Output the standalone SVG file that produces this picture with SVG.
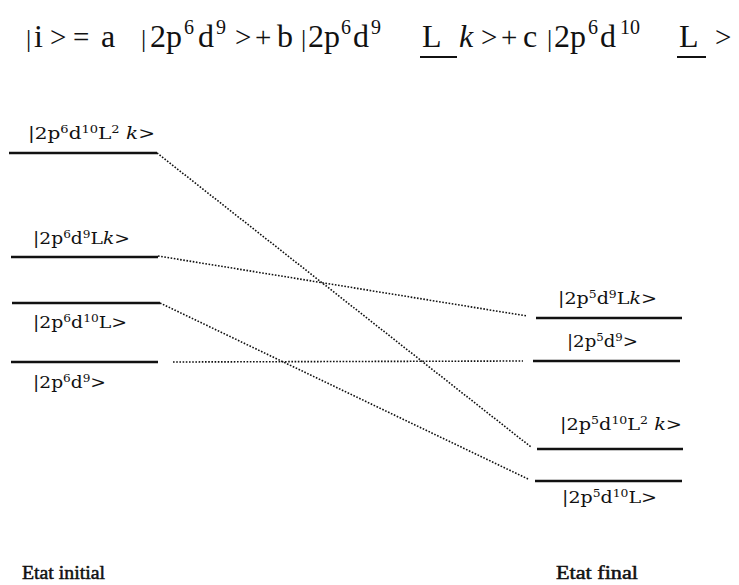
<svg xmlns="http://www.w3.org/2000/svg" width="739" height="585" viewBox="0 0 739 585">
<style>
.title{font-family:"Liberation Serif",serif;font-size:32px;fill:#111}
.sup{font-size:20px}
.op{font-size:29px}
.bar{font-size:26px}
.lab{font-family:"DejaVu Serif",serif;font-size:17px;fill:#111}
.s{font-size:11px}
.lvl{stroke:#111;stroke-width:2.6;fill:none}
.con{stroke:#111;stroke-width:1.6;stroke-dasharray:1.6 1.6;fill:none}
.foot{font-family:"Liberation Serif",serif;font-size:19px;fill:#111;stroke:#111;stroke-width:0.5}
.ul{stroke:#111;stroke-width:2}
</style>
<g id="title">
<text class="title" y="47"><tspan class="bar" x="26">|</tspan><tspan x="34">i</tspan><tspan class="op" x="50">&gt;</tspan><tspan class="op" x="73">=</tspan><tspan x="101">a</tspan><tspan class="bar" x="141">|</tspan><tspan x="150">2p</tspan><tspan class="sup" x="184" dy="-13">6</tspan><tspan x="198" dy="13">d</tspan><tspan class="sup" x="216" dy="-13">9</tspan><tspan class="op" x="235" dy="13">&gt;</tspan><tspan class="op" x="255">+</tspan><tspan x="277">b</tspan><tspan class="bar" x="301">|</tspan><tspan x="308">2p</tspan><tspan class="sup" x="341" dy="-13">6</tspan><tspan x="353" dy="13">d</tspan><tspan class="sup" x="371" dy="-13">9</tspan><tspan x="422" dy="13">L</tspan><tspan x="459" font-style="italic">k</tspan><tspan class="op" x="481">&gt;</tspan><tspan class="op" x="501">+</tspan><tspan x="523">c</tspan><tspan class="bar" x="547">|</tspan><tspan x="554">2p</tspan><tspan class="sup" x="588" dy="-13">6</tspan><tspan x="600" dy="13">d</tspan><tspan class="sup" x="620" dy="-13">10</tspan><tspan x="679" dy="13">L</tspan><tspan class="op" x="715">&gt;</tspan></text>
<line class="ul" x1="420" y1="57" x2="457" y2="57"/>
<line class="ul" x1="677" y1="57" x2="706" y2="57"/>
</g>
<g id="connectors">
<line class="con" x1="157" y1="153" x2="531" y2="447"/>
<line class="con" x1="158" y1="256" x2="527" y2="316"/>
<line class="con" x1="160" y1="303" x2="528" y2="479"/>
<line class="con" x1="173" y1="362" x2="523" y2="361"/>
</g>
<g id="i1">
<line class="lvl" x1="9" y1="153" x2="157" y2="153"/>
<text class="lab" x="28" y="139" textLength="127" lengthAdjust="spacingAndGlyphs">|2p<tspan class="s" dy="-6">6</tspan><tspan dy="6">d</tspan><tspan class="s" dy="-6">10</tspan><tspan dy="6">L</tspan><tspan class="s" dy="-6">2</tspan><tspan dy="6"> </tspan><tspan font-style="italic">k</tspan>&gt;</text>
</g>
<g id="i2">
<line class="lvl" x1="11" y1="257" x2="158" y2="257"/>
<text class="lab" x="33" y="244" textLength="97" lengthAdjust="spacingAndGlyphs">|2p<tspan class="s" dy="-6">6</tspan><tspan dy="6">d</tspan><tspan class="s" dy="-6">9</tspan><tspan dy="6">L</tspan><tspan font-style="italic">k</tspan>&gt;</text>
</g>
<g id="i3">
<line class="lvl" x1="12" y1="303" x2="160" y2="303"/>
<text class="lab" x="33" y="328" textLength="94" lengthAdjust="spacingAndGlyphs">|2p<tspan class="s" dy="-6">6</tspan><tspan dy="6">d</tspan><tspan class="s" dy="-6">10</tspan><tspan dy="6">L&gt;</tspan></text>
</g>
<g id="i4">
<line class="lvl" x1="11" y1="362" x2="158" y2="362"/>
<text class="lab" x="33" y="388" textLength="73" lengthAdjust="spacingAndGlyphs">|2p<tspan class="s" dy="-6">6</tspan><tspan dy="6">d</tspan><tspan class="s" dy="-6">9</tspan><tspan dy="6">&gt;</tspan></text>
</g>
<g id="f1">
<line class="lvl" x1="536" y1="318" x2="682" y2="318"/>
<text class="lab" x="558" y="304" textLength="99" lengthAdjust="spacingAndGlyphs">|2p<tspan class="s" dy="-6">5</tspan><tspan dy="6">d</tspan><tspan class="s" dy="-6">9</tspan><tspan dy="6">L</tspan><tspan font-style="italic">k</tspan>&gt;</text>
</g>
<g id="f2">
<line class="lvl" x1="533" y1="361" x2="680" y2="361"/>
<text class="lab" x="567" y="347" textLength="71" lengthAdjust="spacingAndGlyphs">|2p<tspan class="s" dy="-6">5</tspan><tspan dy="6">d</tspan><tspan class="s" dy="-6">9</tspan><tspan dy="6">&gt;</tspan></text>
</g>
<g id="f3">
<line class="lvl" x1="537" y1="449" x2="683" y2="449"/>
<text class="lab" x="560" y="430" textLength="122" lengthAdjust="spacingAndGlyphs">|2p<tspan class="s" dy="-6">5</tspan><tspan dy="6">d</tspan><tspan class="s" dy="-6">10</tspan><tspan dy="6">L</tspan><tspan class="s" dy="-6">2</tspan><tspan dy="6"> </tspan><tspan font-style="italic">k</tspan>&gt;</text>
</g>
<g id="f4">
<line class="lvl" x1="535" y1="481" x2="682" y2="481"/>
<text class="lab" x="562" y="503" textLength="95" lengthAdjust="spacingAndGlyphs">|2p<tspan class="s" dy="-6">5</tspan><tspan dy="6">d</tspan><tspan class="s" dy="-6">10</tspan><tspan dy="6">L&gt;</tspan></text>
</g>
<g id="footer">
<text class="foot" x="22" y="579" textLength="83" lengthAdjust="spacingAndGlyphs">Etat initial</text>
<text class="foot" x="556" y="579" textLength="82" lengthAdjust="spacingAndGlyphs">Etat final</text>
</g>
</svg>
